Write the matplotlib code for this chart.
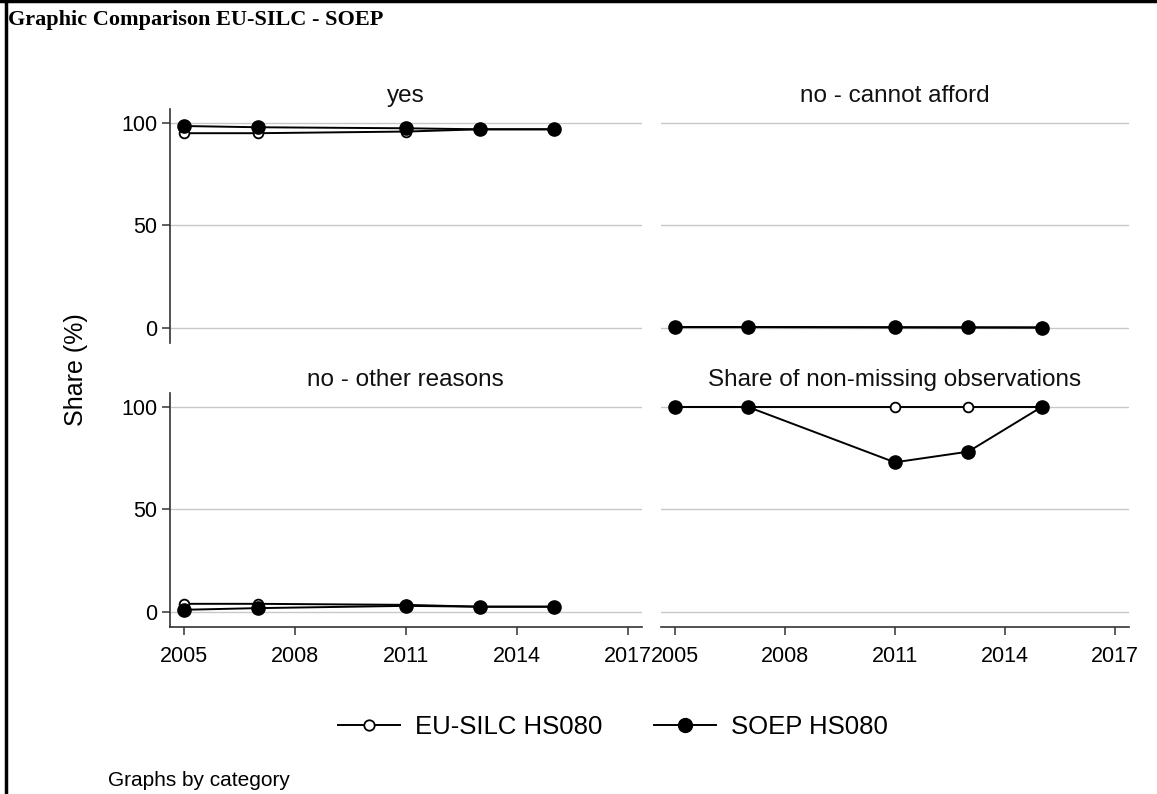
import numpy as np
import matplotlib
matplotlib.use("Agg")
import matplotlib.pyplot as plt
from matplotlib.lines import Line2D

plt.rcParams['font.family'] = ['Liberation Sans', 'DejaVu Sans']

years = [2005, 2007, 2011, 2013, 2015]
panels = ["yes", "no - cannot afford", "no - other reasons",
          "Share of non-missing observations"]
silc = [
    [95.0, 95.0, 95.8, 96.9, 96.9],
    [0.5, 0.5, 0.4, 0.3, 0.3],
    [4.0, 4.0, 3.5, 2.6, 2.6],
    [100, 100, 100, 100, 100],
]
soep = [
    [98.5, 97.9, 97.4, 96.9, 96.9],
    [0.4, 0.4, 0.3, 0.3, 0.2],
    [1.1, 1.9, 3.0, 2.6, 2.6],
    [100, 100, 73, 78.2, 100],
]
xticks = [2005, 2008, 2011, 2014, 2017]
yticks = [0, 50, 100]

fig = plt.figure(figsize=(11.57, 7.94), dpi=100)

lefts = [170/1157, 660.7/1157]
widths = [471.7/1157, 468.3/1157]
bottoms = [1-343/794, 1-627/794]
height = 234/794

spine_col = "#333333"
for i, name in enumerate(panels):
    r, c = divmod(i, 2)
    ax = fig.add_axes([lefts[c], bottoms[r], widths[c], height])
    ax.set_xlim(2004.62, 2017.38)
    ax.set_ylim(-7.3, 106.8)
    for y in yticks:
        ax.axhline(y, color="#c8c8c8", lw=1.0, zorder=0)
    ax.plot(years, silc[i], color="black", lw=1.4, marker="o", ms=7,
            mfc="white", mec="black", mew=1.3, zorder=2)
    ax.plot(years, soep[i], color="black", lw=1.4, marker="o", ms=9.5,
            mfc="black", mec="black", zorder=3)
    for s in ["top", "right"]:
        ax.spines[s].set_visible(False)
    ax.spines["left"].set_visible(c == 0)
    ax.spines["bottom"].set_visible(r == 1)
    ax.spines["left"].set_color(spine_col)
    ax.spines["bottom"].set_color(spine_col)
    ax.spines["left"].set_linewidth(1.2)
    ax.spines["bottom"].set_linewidth(1.2)
    if c == 0:
        ax.set_yticks(yticks)
        ax.tick_params(axis="y", length=6, width=1.1, color=spine_col,
                       labelsize=15.5, pad=3)
    else:
        ax.set_yticks([])
    if r == 1:
        ax.set_xticks(xticks)
        ax.tick_params(axis="x", length=6, width=1.1, color=spine_col,
                       labelsize=15.5, pad=8)
    else:
        ax.set_xticks([])
    ax.set_title(name, fontsize=17.5, pad=5, color="#111111")

fig.text(76/1157, 1-370/794, "Share (%)", rotation=90, fontsize=18,
         ha="center", va="center")

fig.text(8/1157, 1-20/794, "Graphic Comparison EU-SILC - SOEP",
         family=["Liberation Serif"], fontweight="bold", fontsize=16,
         ha="left", va="center")

handles = [
    Line2D([], [], color="black", lw=1.4, marker="o", ms=7.5, mfc="white",
           mec="black", mew=1.3),
    Line2D([], [], color="black", lw=1.4, marker="o", ms=10, mfc="black"),
]
fig.legend(handles, ["EU-SILC HS080", "SOEP HS080"], loc="center",
           bbox_to_anchor=(613/1157, 1-727/794), ncol=2, frameon=False,
           fontsize=18.5, handlelength=2.4, handletextpad=0.6,
           columnspacing=2.0)

fig.text(108/1157, 1-780/794, "Graphs by category", fontsize=15,
         ha="left", va="center")

# frame (left and top edge)
fig.add_artist(Line2D([0.005, 0.005], [0, 1], color="black", lw=2.5,
                      transform=fig.transFigure))
fig.add_artist(Line2D([0, 1], [0.999, 0.999], color="black", lw=2.5,
                      transform=fig.transFigure))

fig.savefig("out.png", dpi=100)
